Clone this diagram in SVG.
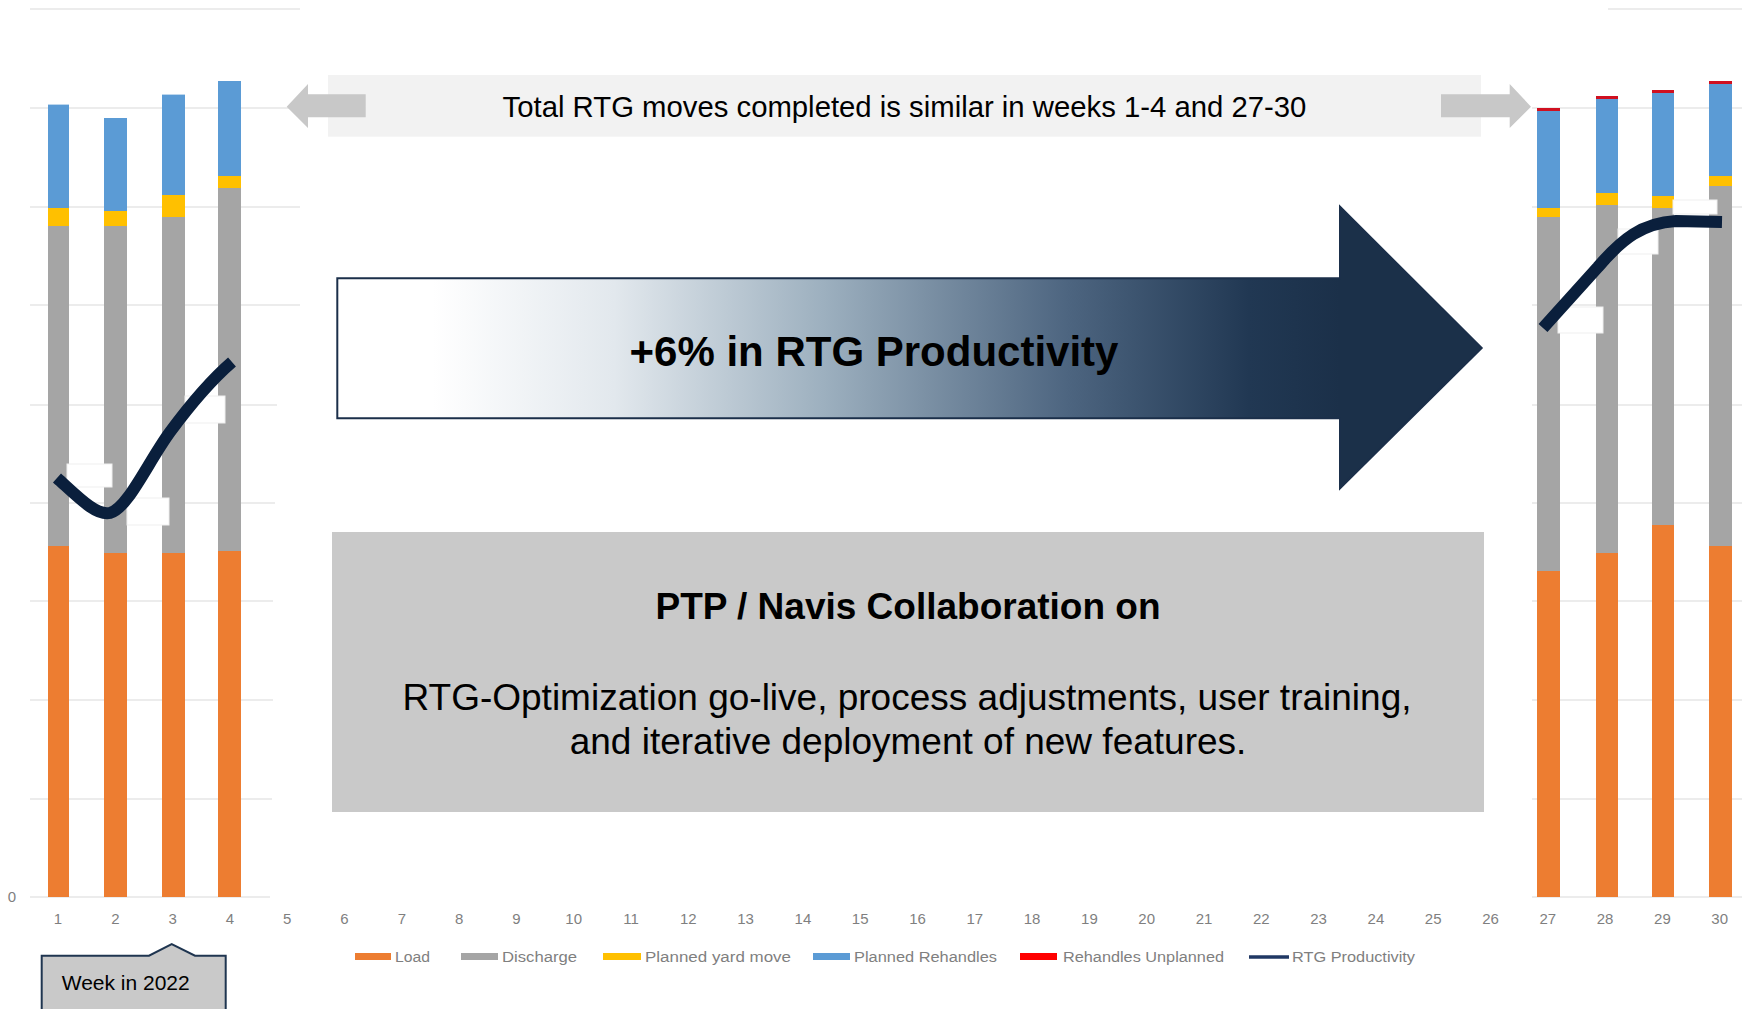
<svg xmlns="http://www.w3.org/2000/svg" width="1742" height="1009" viewBox="0 0 1742 1009">
<style>
.grid{stroke:#d9d9d9;stroke-width:1.2;fill:none}
.ld{fill:#ed7d31}.dc{fill:#a5a5a5}.py{fill:#ffc000}.pr{fill:#5b9bd5}.ru{fill:#d01020}
.lbl{fill:#ffffff;stroke:#efefef;stroke-width:1}
.prod{fill:none;stroke:#0a1f3c;stroke-width:12;stroke-linecap:butt;stroke-linejoin:round}
.ax{font-family:"Liberation Sans",Arial,sans-serif;font-size:15px;fill:#7f7f7f;text-anchor:middle}
.lg{font-family:"Liberation Sans",Arial,sans-serif;font-size:15.5px;fill:#7f7f7f}
.t{font-family:"Liberation Sans",Arial,sans-serif;fill:#000000;text-anchor:middle}
.garrow{fill:#c8c8c8}
</style>
<defs>
<linearGradient id="ag" gradientUnits="userSpaceOnUse" x1="433" y1="0" x2="1340" y2="0">
<stop offset="0" stop-color="#ffffff"/>
<stop offset="0.2" stop-color="#e2e8ed"/>
<stop offset="0.43" stop-color="#9db0bf"/>
<stop offset="0.7" stop-color="#4d6580"/>
<stop offset="0.9" stop-color="#213853"/>
<stop offset="1" stop-color="#1b3049"/>
</linearGradient>
</defs>
<rect width="1742" height="1009" fill="#ffffff"/>

<g id="gridlines">
<path class="grid" d="M30 9H300M30 108H300M30 207H300M30 305H300M30 405H277M30 503H275M30 601H273M30 700H273M30 799H272M30 897H270"/>
<path class="grid" d="M1608 9H1742M1532 108H1742M1532 207H1742M1532 305H1742M1532 405H1742M1532 503H1742M1532 601H1742M1532 700H1742M1532 799H1742M1532 897H1742"/>
</g>

<g id="bars-left">
<rect class="pr" x="48" y="104.6" width="21" height="103.4"/>
<rect class="py" x="48" y="208" width="21" height="18"/>
<rect class="dc" x="48" y="226" width="21" height="320"/>
<rect class="ld" x="48" y="546" width="21" height="351"/>
<rect class="pr" x="104" y="118" width="23" height="93"/>
<rect class="py" x="104" y="211" width="23" height="15"/>
<rect class="dc" x="104" y="226" width="23" height="327"/>
<rect class="ld" x="104" y="553" width="23" height="344"/>
<rect class="pr" x="162" y="94.6" width="23" height="100.4"/>
<rect class="py" x="162" y="195" width="23" height="22"/>
<rect class="dc" x="162" y="217" width="23" height="336"/>
<rect class="ld" x="162" y="553" width="23" height="344"/>
<rect class="pr" x="218" y="81" width="23" height="95"/>
<rect class="py" x="218" y="176" width="23" height="12"/>
<rect class="dc" x="218" y="188" width="23" height="363"/>
<rect class="ld" x="218" y="551" width="23" height="346"/>
<rect class="lbl" x="67" y="464" width="45" height="23"/>
<rect class="lbl" x="127" y="498" width="42" height="27"/>
<rect class="lbl" x="185" y="396" width="40" height="27"/>
<path class="prod" d="M57 478 C78 497 96 516 110 513 C128 508 148 462 170 432 C190 405 210 381 232 362"/>
</g>

<g id="bars-right">
<rect class="ru" x="1537" y="108" width="23" height="3"/>
<rect class="pr" x="1537" y="111" width="23" height="97"/>
<rect class="py" x="1537" y="208" width="23" height="9"/>
<rect class="dc" x="1537" y="217" width="23" height="354"/>
<rect class="ld" x="1537" y="571" width="23" height="326"/>
<rect class="ru" x="1596" y="96" width="22" height="3"/>
<rect class="pr" x="1596" y="99" width="22" height="94"/>
<rect class="py" x="1596" y="193" width="22" height="12"/>
<rect class="dc" x="1596" y="205" width="22" height="348"/>
<rect class="ld" x="1596" y="553" width="22" height="344"/>
<rect class="ru" x="1652" y="90" width="22" height="3"/>
<rect class="pr" x="1652" y="93" width="22" height="103"/>
<rect class="py" x="1652" y="196" width="22" height="12"/>
<rect class="dc" x="1652" y="208" width="22" height="317"/>
<rect class="ld" x="1652" y="525" width="22" height="372"/>
<rect class="ru" x="1709" y="81" width="23" height="3"/>
<rect class="pr" x="1709" y="84" width="23" height="92"/>
<rect class="py" x="1709" y="176" width="23" height="10"/>
<rect class="dc" x="1709" y="186" width="23" height="360"/>
<rect class="ld" x="1709" y="546" width="23" height="351"/>
<rect class="lbl" x="1558" y="307" width="45" height="26"/>
<rect class="lbl" x="1618" y="229" width="40" height="25"/>
<rect class="lbl" x="1673" y="200" width="44" height="14"/>
<path class="prod" d="M1543 328 L1598 267 C1622 239 1642 223 1676 221 L1722 222"/>
</g>

<g id="axis">
<text class="ax" x="12" y="902">0</text>
<text class="ax" x="58" y="924">1</text><text class="ax" x="115.3" y="924">2</text><text class="ax" x="172.6" y="924">3</text><text class="ax" x="229.9" y="924">4</text><text class="ax" x="287.2" y="924">5</text>
<text class="ax" x="344.5" y="924">6</text><text class="ax" x="401.8" y="924">7</text><text class="ax" x="459.1" y="924">8</text><text class="ax" x="516.4" y="924">9</text><text class="ax" x="573.7" y="924">10</text>
<text class="ax" x="631" y="924">11</text><text class="ax" x="688.3" y="924">12</text><text class="ax" x="745.6" y="924">13</text><text class="ax" x="802.9" y="924">14</text><text class="ax" x="860.2" y="924">15</text>
<text class="ax" x="917.5" y="924">16</text><text class="ax" x="974.8" y="924">17</text><text class="ax" x="1032.1" y="924">18</text><text class="ax" x="1089.4" y="924">19</text><text class="ax" x="1146.7" y="924">20</text>
<text class="ax" x="1204" y="924">21</text><text class="ax" x="1261.3" y="924">22</text><text class="ax" x="1318.6" y="924">23</text><text class="ax" x="1375.9" y="924">24</text><text class="ax" x="1433.2" y="924">25</text>
<text class="ax" x="1490.5" y="924">26</text><text class="ax" x="1547.8" y="924">27</text><text class="ax" x="1605.1" y="924">28</text><text class="ax" x="1662.4" y="924">29</text><text class="ax" x="1719.7" y="924">30</text>
</g>

<g id="legend">
<rect class="ld" x="355" y="953" width="36" height="7"/>
<text class="lg" x="395" y="962" textLength="35" lengthAdjust="spacingAndGlyphs">Load</text>
<rect class="dc" x="461" y="953" width="37" height="7"/>
<text class="lg" x="502" y="962" textLength="75" lengthAdjust="spacingAndGlyphs">Discharge</text>
<rect class="py" x="603" y="953" width="38" height="7"/>
<text class="lg" x="645" y="962" textLength="146" lengthAdjust="spacingAndGlyphs">Planned yard move</text>
<rect class="pr" x="813" y="953" width="37" height="7"/>
<text class="lg" x="854" y="962" textLength="143" lengthAdjust="spacingAndGlyphs">Planned Rehandles</text>
<rect fill="#ff0000" x="1020" y="953" width="37" height="7"/>
<text class="lg" x="1063" y="962" textLength="161" lengthAdjust="spacingAndGlyphs">Rehandles Unplanned</text>
<line x1="1249" y1="957" x2="1289" y2="957" stroke="#203864" stroke-width="3.5"/>
<text class="lg" x="1292" y="962" textLength="123" lengthAdjust="spacingAndGlyphs">RTG Productivity</text>
</g>

<g id="banner">
<rect x="328" y="75" width="1153" height="61.7" fill="#f2f2f2"/>
<text class="t" x="904.5" y="117" font-size="29.3">Total RTG moves completed is similar in weeks 1-4 and 27-30</text>
</g>

<g id="connectors">
<polygon class="garrow" points="286.7,106.7 308,84 308,94.3 365.7,94.3 365.7,117.3 308,117.3 308,128"/>
<polygon class="garrow" points="1531,106.7 1509.7,84 1509.7,94.3 1441,94.3 1441,117.3 1509.7,117.3 1509.7,128"/>
</g>

<g id="productivity-arrow">
<polygon points="337.3,278.3 1340,278.3 1340,206.7 1481.7,348 1340,488.3 1340,418.3 337.3,418.3" fill="url(#ag)" stroke="#1b2f4a" stroke-width="2"/>
<text class="t" x="874" y="366" font-size="42" font-weight="bold">+6% in RTG Productivity</text>
</g>

<g id="collaboration-box">
<rect x="332" y="532" width="1152" height="280" fill="#c9c9c9"/>
<text class="t" x="908" y="619" font-size="37" font-weight="bold">PTP / Navis Collaboration on</text>
<text class="t" x="907" y="710" font-size="37">RTG-Optimization go-live, process adjustments, user training,</text>
<text class="t" x="908" y="754" font-size="37">and iterative deployment of new features.</text>
</g>

<g id="week-callout">
<path d="M41.7 955.7 L149 955.7 L171.7 944 L195 955.7 L225.7 955.7 L225.7 1012 L41.7 1012 Z" fill="#c9c9c9" stroke="#1f3550" stroke-width="2"/>
<text x="61.7" y="990" font-family="'Liberation Sans',Arial,sans-serif" font-size="21" fill="#000000">Week in 2022</text>
</g>
</svg>
